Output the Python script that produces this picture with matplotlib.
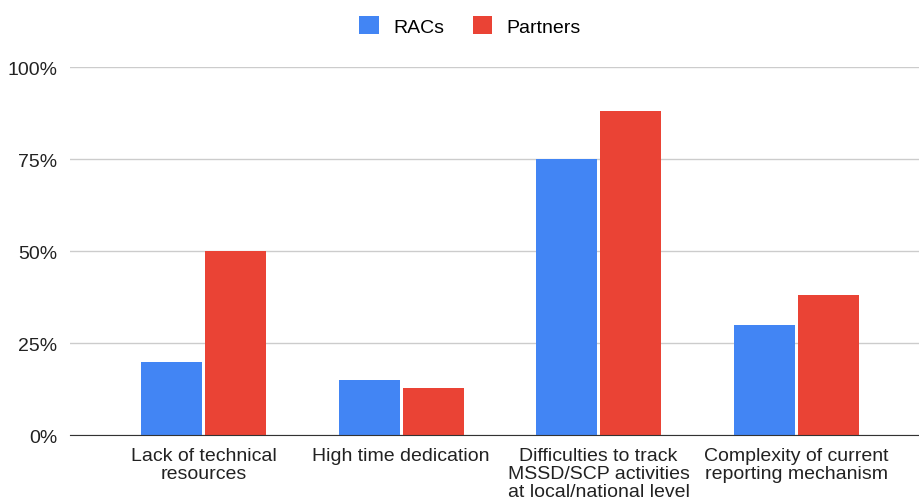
import numpy as np
import matplotlib.pyplot as plt
from matplotlib.patches import Patch
from matplotlib.ticker import FuncFormatter

plt.rcParams['font.family'] = ['Liberation Sans', 'DejaVu Sans']

# data
categories = ['Lack of technical\nresources', 'High time dedication',
              'Difficulties to track\nMSSD/SCP activities\nat local/national level',
              'Complexity of current\nreporting mechanism']
racs = [0.20, 0.15, 0.75, 0.30]
partners = [0.50, 0.13, 0.88, 0.38]
series_names = ['RACs', 'Partners']
colors = ['#4285F4', '#EA4335']

fig = plt.figure(figsize=(9.2, 5.02), dpi=100)
ax = fig.add_axes([0.0761, 0.1305, 0.9239, 0.734])

x = np.arange(len(categories))
w = 0.308
ax.bar(x - 0.162, racs, w, color=colors[0], zorder=3)
ax.bar(x + 0.162, partners, w, color=colors[1], zorder=3)

ax.set_xlim(-0.677, 3.627)
ax.set_ylim(0, 1)
ax.set_yticks([0, 0.25, 0.5, 0.75, 1.0])
ax.yaxis.set_major_formatter(FuncFormatter(lambda v, p: f'{int(round(v * 100))}%'))
ax.grid(axis='y', color='#cccccc', linewidth=1, zorder=0)
ax.set_xticks(x)
ax.set_xticklabels(categories, fontsize=14, color='#222222', linespacing=1.08)
ax.tick_params(axis='x', length=0, pad=8)
ax.tick_params(axis='y', length=0, pad=9, labelsize=14, labelcolor='#222222')

for s in ['top', 'right', 'left']:
    ax.spines[s].set_visible(False)
ax.spines['bottom'].set_color('#333333')
ax.spines['bottom'].set_zorder(4)

handles = [Patch(facecolor=c, edgecolor='none') for c in colors]
fig.legend(handles, series_names, loc='center', bbox_to_anchor=(0.511, 0.946),
           ncol=2, frameon=False, fontsize=14, handlelength=1.0, handleheight=1.0,
           handletextpad=0.75, columnspacing=1.45)

fig.savefig('out.png', dpi=100)
